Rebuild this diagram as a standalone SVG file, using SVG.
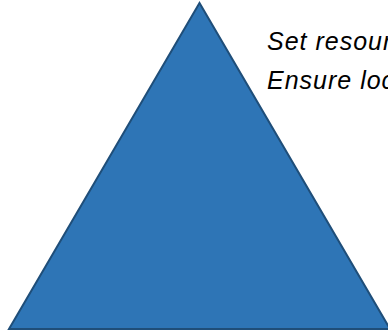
<svg xmlns="http://www.w3.org/2000/svg" width="388" height="332" viewBox="0 0 388 332">
<style>
.tri{fill:#2E75B6;stroke:#1F4E79;stroke-width:2;stroke-linejoin:miter}
.lbl{font-family:"Liberation Sans",Arial,sans-serif;font-style:italic;font-size:25px;letter-spacing:1px;fill:#000}
</style>
<rect width="388" height="332" fill="#fff"/>
<g id="pyramid">
<polygon class="tri" points="199.5,3 9,329 390,329"/>
</g>
<g id="labels">
<text class="lbl" x="267" y="50">Set resour</text>
<text class="lbl" x="267" y="89">Ensure loc</text>
</g>
</svg>
